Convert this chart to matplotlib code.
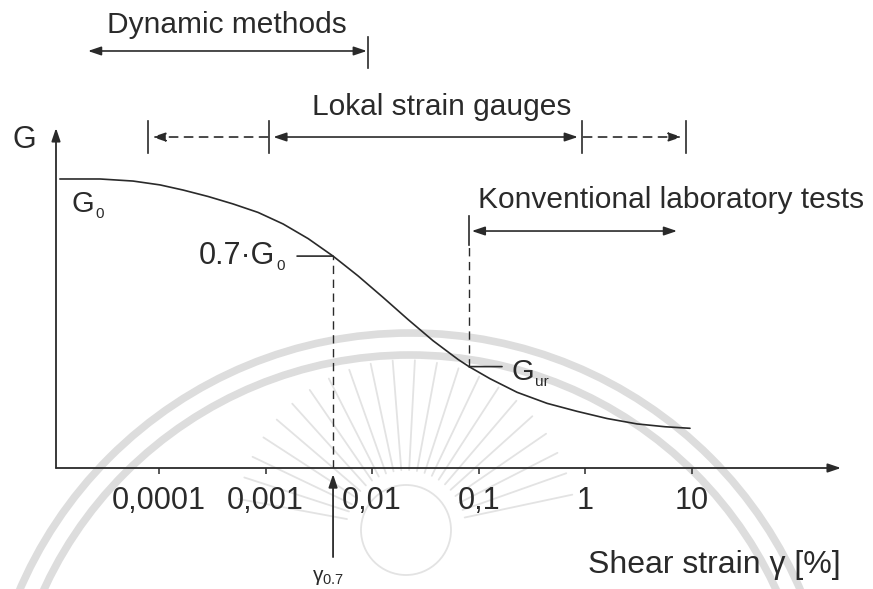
import numpy as np
import matplotlib
matplotlib.use("Agg")
import matplotlib.pyplot as plt
from matplotlib.patches import Circle
from matplotlib.ticker import NullLocator
from matplotlib.transforms import IdentityTransform

plt.rcParams["font.family"] = ["Liberation Sans", "DejaVu Sans"]
plt.rcParams["mathtext.fontset"] = "custom"
plt.rcParams["mathtext.rm"] = "Liberation Sans"
plt.rcParams["mathtext.it"] = "Liberation Sans"

# Stiffness degradation curve: shear strain [%] vs. normalised modulus G/G0
strain = [1.17e-5, 2.79e-5, 5.69e-5, 1.02e-4, 1.68e-4, 2.88e-4, 4.94e-4,
          8.49e-4, 1.46e-3, 2.51e-3, 4.30e-3, 7.38e-3, 0.0127, 0.0218,
          0.0373, 0.0641, 0.0813, 0.128, 0.230, 0.440, 0.840, 1.61,
          3.08, 5.64, 9.66]
g_ratio = [1.000, 1.000, 0.992, 0.977, 0.957, 0.932, 0.903, 0.870, 0.825,
           0.768, 0.700, 0.623, 0.539, 0.453, 0.371, 0.298, 0.270, 0.223,
           0.170, 0.127, 0.096, 0.068, 0.047, 0.036, 0.030]

tick_values = [1e-4, 1e-3, 1e-2, 1e-1, 1, 10]
tick_labels = ["0,0001", "0,001", "0,01", "0,1", "1", "10"]

# characteristic points on the curve
gamma_07, g_07 = 4.30e-3, 0.70
gamma_ur, g_ur = 0.0813, 0.270

# strain ranges covered by the test methods
dynamic_range = (2.15e-5, 9.2e-3)
local_low = (7.9e-5, 1.08e-3)
local_main = (1.08e-3, 0.936)
local_high = (0.936, 8.85)
conventional_range = (gamma_ur, 7.3)

INK = "#2a2a2a"
SEAL = "#dddddd"
RAY = "#e3e3e3"
W, H = 873, 589

fig = plt.figure(figsize=(W / 100, H / 100), dpi=100)
fig.patch.set_facecolor("white")

# faint seal motif in the background
bg = fig.add_axes([0, 0, 1, 1], zorder=0)
bg.set_xlim(0, W)
bg.set_ylim(H, 0)
bg.axis("off")
for r in (425, 403):
    bg.add_patch(Circle((410, 758), r, fill=False, lw=5.5, ec=SEAL))
for ang in np.deg2rad(np.arange(12, 170, 7.5)):
    c, s = np.cos(ang), np.sin(ang)
    bg.plot([406 + 60 * c, 406 + 170 * c], [530 - 60 * s, 530 - 170 * s],
            color=RAY, lw=1.3, solid_capstyle="round")
bg.add_patch(Circle((406, 530), 45, fill=False, lw=1.3, ec=RAY))

# main diagram
ax = fig.add_axes([56 / W, 1 - 468 / H, 785 / W, 340 / H], zorder=2)
ax.patch.set_alpha(0)
ax.set_xscale("log")
ax.set_xlim(10 ** -4.968, 10 ** 2.403)
ymin, ymax = -0.1245, 1.1984
ax.set_ylim(ymin, ymax)
for sp in ax.spines.values():
    sp.set_visible(False)

head = "-|>,head_length=0.65,head_width=0.22"
both = "<|-|>,head_length=0.65,head_width=0.22"

# axes with arrow tips
ax.annotate("", xy=(1, 0), xytext=(0, 0), xycoords="axes fraction",
            arrowprops=dict(arrowstyle=head, lw=1.3, color=INK, shrinkA=0,
                            shrinkB=0, mutation_scale=12))
ax.annotate("", xy=(0, 1), xytext=(0, 0), xycoords="axes fraction",
            arrowprops=dict(arrowstyle=head, lw=1.3, color=INK, shrinkA=0,
                            shrinkB=0, mutation_scale=12))

ax.set_xticks(tick_values)
ax.set_xticklabels(tick_labels)
ax.xaxis.set_minor_locator(NullLocator())
ax.tick_params(axis="x", direction="out", length=4, width=1.1, color=INK,
               pad=9, labelsize=22, labelcolor=INK)
ax.set_yticks([])

ax.text(-0.056, 0.941, "G", transform=ax.transAxes, fontsize=22,
        color=INK, ha="left", va="baseline")

# degradation curve
ax.plot(strain, g_ratio, color=INK, lw=1.2, solid_capstyle="round")

renderer = fig.canvas.get_renderer()


def sub_label(x, y, dx, dy, main, sub, size=21, subsize=11, drop=6):
    """Text with a small subscript, placed dx/dy pixels from a data point."""
    px, py = ax.transData.transform((x, y))
    t = fig.text(px + dx, py + dy, main, transform=IdentityTransform(),
                 ha="left", va="baseline", fontsize=size, color=INK)
    bb = t.get_window_extent(renderer)
    fig.text(bb.x1 + 1, py + dy - drop, sub, transform=IdentityTransform(),
             ha="left", va="baseline", fontsize=subsize, color=INK)


sub_label(strain[0], g_ratio[0], 12, -33, "G", "0")

# G at 0.7 G0 and reference strain gamma_0.7
frac07 = (g_07 - ymin) / (ymax - ymin)
ax.axvline(gamma_07, 0, frac07, color=INK, lw=1.0, dashes=(6, 4))
ax.annotate("", xy=(gamma_07, g_07), xytext=(-36, 0),
            textcoords="offset pixels",
            arrowprops=dict(arrowstyle="-", lw=1.2, color=INK,
                            shrinkA=0, shrinkB=0))
sub_label(gamma_07, g_07, -134, -8, "0.7·G", "0", size=22)

# unloading/reloading modulus
xt = ax.get_xaxis_transform()
frac_ur = (g_ur - ymin) / (ymax - ymin)
ax.axvline(gamma_ur, frac_ur, 0.656, color=INK, lw=1.0, dashes=(6, 4))
ax.annotate("", xy=(gamma_ur, g_ur), xytext=(33, 0),
            textcoords="offset pixels",
            arrowprops=dict(arrowstyle="-", lw=1.2, color=INK,
                            shrinkA=0, shrinkB=0))
sub_label(gamma_ur, g_ur, 42, -13, "G", "ur", drop=6)

# gamma_0.7 pointer below the strain axis
ax.annotate("", xy=(gamma_07, -0.018), xytext=(gamma_07, -0.262),
            xycoords=xt, annotation_clip=False,
            arrowprops=dict(arrowstyle=head, lw=1.3, color=INK, shrinkA=0,
                            shrinkB=0, mutation_scale=12))
ax.annotate("γ$_{0.7}$", xy=(gamma_07, -0.262), xycoords=xt,
            xytext=(-21, -24), textcoords="offset pixels", ha="left",
            va="baseline", fontsize=15, color=INK, annotation_clip=False)


def bar(x, y0, y1):
    ax.plot([x, x], [y0, y1], transform=xt, color=INK, lw=1.2,
            clip_on=False)


def span(x0, x1, y, style, dashed=False, sA=2, sB=2):
    props = dict(arrowstyle=style, lw=1.2, color=INK, shrinkA=sA,
                 shrinkB=sB, mutation_scale=12)
    if dashed:
        props["linestyle"] = (0, (5, 4))
    ax.annotate("", xy=(x1, y), xytext=(x0, y), xycoords=xt,
                annotation_clip=False, arrowprops=props)


# dynamic methods
span(dynamic_range[0], dynamic_range[1], 1.2265, both, sA=0, sB=1)
bar(dynamic_range[1], 1.1765, 1.2676)
ax.text(4.36e-4, 1.2794, "Dynamic methods", transform=xt, ha="center",
        va="baseline", fontsize=21.5, color=INK, clip_on=False)

# local strain gauges
for xb in (local_low[0], local_low[1], local_main[1], local_high[1]):
    bar(xb, 0.9265, 1.0206)
span(local_low[1], local_low[0], 0.9735, head, dashed=True, sA=1, sB=3)
span(local_main[0], local_main[1], 0.9735, both, sA=3, sB=3)
span(local_high[0], local_high[1], 0.9735, head, dashed=True, sA=1, sB=3)
ax.text(2.72e-3, 1.038, "Lokal strain gauges", transform=xt, ha="left",
        va="baseline", fontsize=21.5, color=INK, clip_on=False)

# conventional laboratory tests
bar(conventional_range[0], 0.656, 0.741)
span(conventional_range[0], conventional_range[1], 0.697, both, sA=2, sB=0)
ax.text(0.0989, 0.765, "Konventional laboratory tests", transform=xt,
        ha="left", va="baseline", fontsize=21.5, color=INK, clip_on=False)

fig.text(841 / W, 1 - 573 / H, "Shear strain γ [%]", ha="right",
         va="baseline", fontsize=23, color=INK)

fig.savefig("out.png", dpi=100, facecolor="white")
